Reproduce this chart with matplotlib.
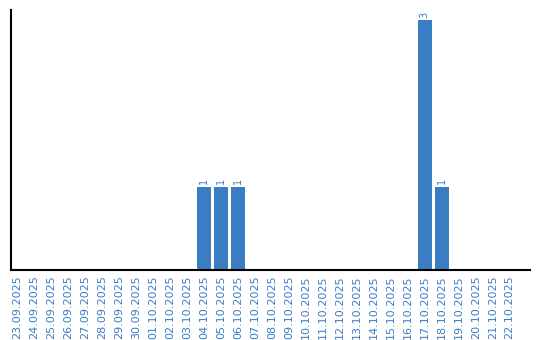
import matplotlib
matplotlib.use("Agg")
import matplotlib.pyplot as plt

dates = ["23.09.2025", "24.09.2025", "25.09.2025", "26.09.2025", "27.09.2025",
         "28.09.2025", "29.09.2025", "30.09.2025", "01.10.2025", "02.10.2025",
         "03.10.2025", "04.10.2025", "05.10.2025", "06.10.2025", "07.10.2025",
         "08.10.2025", "09.10.2025", "10.10.2025", "11.10.2025", "12.10.2025",
         "13.10.2025", "14.10.2025", "15.10.2025", "16.10.2025", "17.10.2025",
         "18.10.2025", "19.10.2025", "20.10.2025", "21.10.2025", "22.10.2025"]
counts = [0, 0, 0, 0, 0, 0, 0, 0, 0, 0,
          0, 1, 1, 1, 0, 0, 0, 0, 0, 0,
          0, 0, 0, 0, 3, 1, 0, 0, 0, 0]

blue = "#3b7dc4"
fig = plt.figure(figsize=(5.4, 3.4), dpi=100)
ax = fig.add_axes([11/540, 70/340, 519/540, 260/340])

x = list(range(len(dates)))
bars = ax.bar(x, counts, width=0.82, color=blue)
for xi, c in zip(x, counts):
    if c > 0:
        ax.text(xi, c + 0.03, str(c), rotation=90, ha="center", va="bottom",
                fontsize=7, color=blue)

ax.set_xlim(-0.35, 30.2)
ax.set_ylim(0, 3.12)
ax.set_xticks(x)
ax.set_xticklabels(dates, rotation=90, fontsize=8, color=blue)
ax.tick_params(axis="x", length=0, pad=4)
ax.set_yticks([])
ax.spines["top"].set_visible(False)
ax.spines["right"].set_visible(False)
ax.spines["left"].set_linewidth(1.5)
ax.spines["bottom"].set_linewidth(1.5)

fig.savefig("out.png", dpi=100)
